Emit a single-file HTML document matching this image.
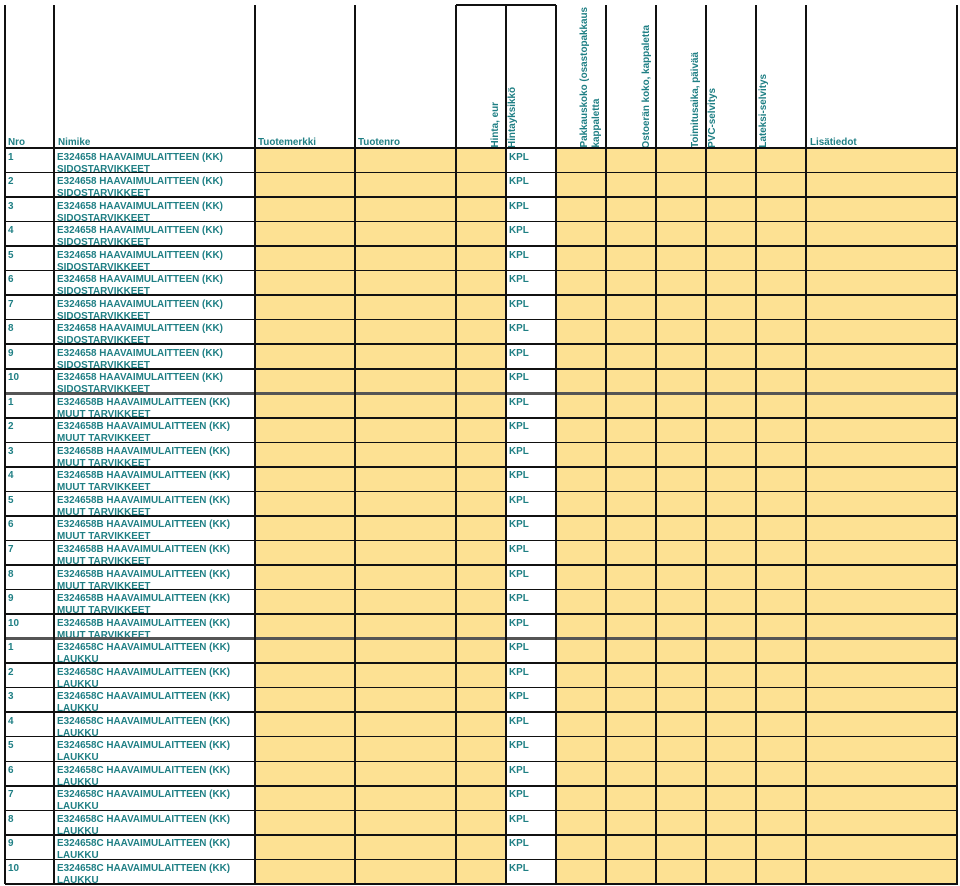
<!DOCTYPE html>
<html><head><meta charset="utf-8">
<style>
html,body{margin:0;padding:0;background:#fff;}
#wrap{position:relative;width:960px;height:886px;overflow:hidden;font-family:"Liberation Sans",sans-serif;font-weight:bold;color:#1f7f84;font-size:9.9px;}
.vl{position:absolute;width:1.5px;background:#111;}
.hl{position:absolute;height:1.5px;background:#111;}
.cell{position:absolute;overflow:hidden;line-height:12px;box-sizing:border-box;padding:3.5px 0 0 3px;}
.hdr{position:absolute;white-space:nowrap;}
.vt{position:absolute;writing-mode:vertical-rl;transform:rotate(180deg);white-space:nowrap;line-height:12px;}
</style></head>
<body>
<div id="wrap">
  <div class="hdr" style="left:8px;top:137px">Nro</div>
  <div class="hdr" style="left:58px;top:137px">Nimike</div>
  <div class="hdr" style="left:258px;top:137px">Tuotemerkki</div>
  <div class="hdr" style="left:358px;top:137px">Tuotenro</div>
  <div class="vt" style="left:490px;bottom:738px">Hinta, eur</div>
  <div class="vt" style="left:507px;bottom:738px">Hintayksikkö</div>
  <div class="vt" style="left:579px;bottom:738px">Pakkauskoko (osastopakkaus<br>kappaletta</div>
  <div class="vt" style="left:641px;bottom:738px">Ostoerän koko, kappaletta</div>
  <div class="vt" style="left:690px;bottom:738px">Toimitusaika, päivää</div>
  <div class="vt" style="left:707px;bottom:738px">PVC-selvitys</div>
  <div class="vt" style="left:758px;bottom:738px">Lateksi-selvitys</div>
  <div class="hdr" style="left:810px;top:137px">Lisätiedot</div>
</div>
<script>
const sectionCodes = ["E324658","E324658B","E324658C"];
const sectionNames = ["SIDOSTARVIKKEET","MUUT TARVIKKEET","LAUKKU"];
const rowNumbers = [1,2,3,4,5,6,7,8,9,10];
const unitLabel = "KPL";

const wrap = document.getElementById('wrap');
const colX = [5,54,255,355,456,506,556,606,656,706,756,806,957];
const top0 = 148, rowH = 24.53;
const yellowCols = [2,3,4,6,7,8,9,10,11];
function div(cls, style){const d=document.createElement('div');d.className=cls;Object.assign(d.style,style);wrap.appendChild(d);return d;}

let r = 0;
sectionCodes.forEach((code, s) => {
  rowNumbers.forEach(n => {
    const y = top0 + r*rowH;
    yellowCols.forEach(c => {
      const b = div('cell',{left:colX[c]+'px',top:y+'px',width:(colX[c+1]-colX[c])+'px',height:rowH+'px',background:'#fde193'});
      
      
    });
    const nc = div('cell',{left:colX[0]+'px',top:y+'px',width:(colX[1]-colX[0])+'px',height:rowH+'px'});
    nc.textContent = n;
    
    
    const tc = div('cell',{left:colX[1]+'px',top:y+'px',width:(colX[2]-colX[1])+'px',height:(rowH-1)+'px'});
    tc.innerHTML = code+' HAAVAIMULAITTEEN (KK)<br>'+sectionNames[s];
    
    
    const uc = div('cell',{left:colX[5]+'px',top:y+'px',width:(colX[6]-colX[5])+'px',height:rowH+'px'});
    uc.textContent = unitLabel;
    
    
    r++;
  });
});
const bottom = top0 + r*rowH;
for(let i=0;i<=r;i++){
  const y = top0 + i*rowH;
  const thick = (i===10||i===20);
  const h = div('hl',{left:'5px',top:(y-(thick?1.25:0.75))+'px',width:'953px',height:(thick?'3px':'1.5px'),background:thick?'#555':'#111'});
  
  
}
colX.forEach((x,i) => {
  const v = div('vl',{left:(x-0.75)+'px',top:'5px',height:(bottom-5)+'px'});
  
  
});
const tb = div('hl',{left:'456px',top:'4px',width:'100px'});


</script>
</body></html>
